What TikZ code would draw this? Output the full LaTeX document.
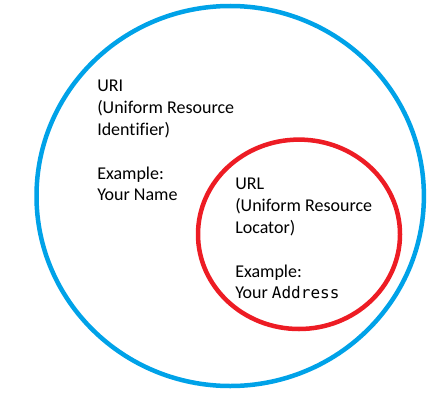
\documentclass[tikz,border=0pt]{standalone}
\usepackage{fontspec}
\setmainfont{Carlito}[Ligatures=NoCommon]
\newfontfamily\codefont{DejaVu Sans Mono}
\definecolor{uriblue}{RGB}{0,162,232}
\definecolor{urlred}{RGB}{237,28,36}
\begin{document}
\begin{tikzpicture}[x=1pt, y=-1pt, line width=4.5pt, line join=round, line cap=round, font=\fontsize{18}{21.8}\selectfont]
\useasboundingbox (0,0) rectangle (443,401);
\coordinate (O) at (230.2,196);
\coordinate (C) at (299,234.3);
\draw[uriblue] (O) ellipse [x radius=193.7, y radius=190];
\draw[urlred] (C) ellipse [x radius=101, y radius=94.7];
\node[anchor=north west, inner sep=0, align=left] (uri) at (95,78) {URI\\(Uniform Resource\\Identifier)\\[21.8pt]Example:\\Your Name};
\node[anchor=north west, inner sep=0, align=left] (url) at (233,176) {URL\\(Uniform Resource\\Locator)\\[21.8pt]Example:\\Your {\codefont\fontsize{16}{21.8}\selectfont Address}};
\end{tikzpicture}
\end{document}
